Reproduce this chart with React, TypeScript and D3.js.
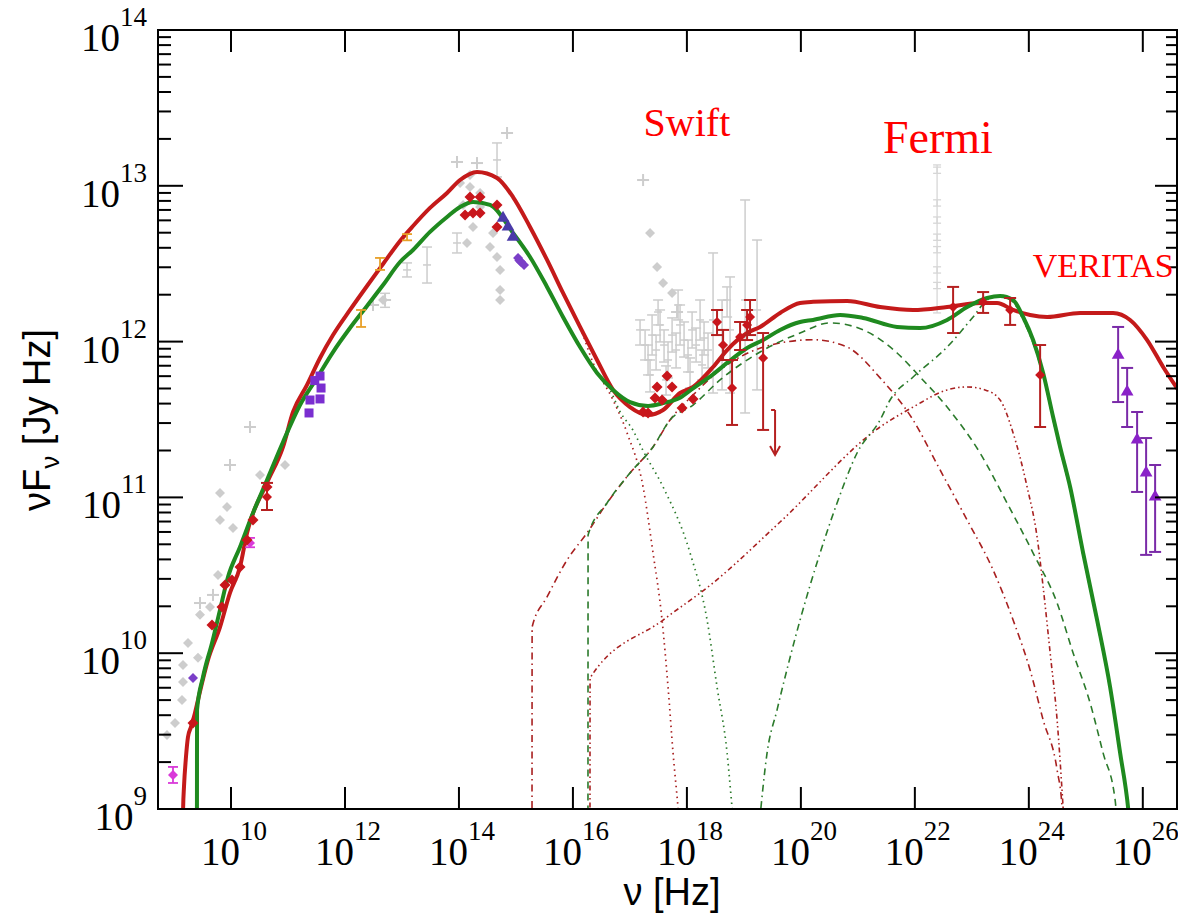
import React from 'react';
import * as d3 from 'd3';

// ---------- DATA (log10 nu [Hz], log10 nuFnu [Jy Hz]) ----------
const xTickExps = [10, 12, 14, 16, 18, 20, 22, 24, 26];
const yTickExps = [9, 10, 11, 12, 13, 14];

const redModel: [number, number][] = [
  [9.158, 8.9], [9.16, 9.007], [9.175, 9.142], [9.21, 9.334], [9.245, 9.462], [9.298, 9.527], [9.368, 9.617],
  [9.421, 9.7], [9.596, 9.957], [9.807, 10.168], [9.982, 10.387], [10.158, 10.553], [10.281, 10.772],
  [10.632, 11.093], [10.913, 11.324], [11.088, 11.548], [11.334, 11.722], [11.562, 11.895], [11.79, 12.042],
  [12.088, 12.203], [12.387, 12.357], [12.668, 12.498], [12.966, 12.646], [13.194, 12.742], [13.492, 12.858],
  [13.791, 12.954], [14.019, 13.037], [14.317, 13.089],
  [14.668, 13.05], [14.949, 12.928], [15.247, 12.736], [15.546, 12.524], [15.826, 12.312], [16.125, 12.094],
  [16.423, 11.882], [16.704, 11.69], [17.002, 11.58], [17.318, 11.529], [17.582, 11.561], [17.88, 11.67],
  [18.108, 11.709], [18.459, 11.837], [18.705, 11.946], [19.056, 12.055], [19.284, 12.094], [19.635, 12.184],
  [19.986, 12.248], [20.214, 12.255], [20.811, 12.261], [21.39, 12.222], [21.969, 12.203], [22.566, 12.222],
  [23.145, 12.248], [23.443, 12.248], [23.724, 12.203], [24.022, 12.171], [24.321, 12.158], [24.9, 12.184],
  [25.479, 12.184], [25.777, 12.139], [26.076, 12.01], [26.357, 11.837], [26.62, 11.69],
];

const greenModel: [number, number][] = [
  [9.402, 8.9], [9.404, 9.636], [9.509, 9.848], [9.667, 10.066], [9.807, 10.278], [9.947, 10.489],
  [10.158, 10.682], [10.386, 10.9], [10.632, 11.112], [10.913, 11.356], [11.211, 11.593], [11.509, 11.767],
  [11.79, 11.933], [12.088, 12.087], [12.387, 12.229], [12.668, 12.363], [12.966, 12.511], [13.194, 12.588],
  [13.492, 12.704], [13.791, 12.8], [14.019, 12.864], [14.247, 12.896], [14.545, 12.877], [14.949, 12.697],
  [15.247, 12.543], [15.546, 12.351], [15.826, 12.158],
  [16.125, 11.965], [16.423, 11.799], [16.704, 11.69], [17.002, 11.612], [17.318, 11.587], [17.582, 11.605],
  [17.88, 11.64], [18.108, 11.7], [18.459, 11.79], [18.705, 11.863], [19.056, 11.959], [19.337, 12.01],
  [19.635, 12.075], [19.986, 12.126], [20.214, 12.139], [20.688, 12.171], [21.092, 12.152], [21.688, 12.094],
  [22.092, 12.087], [22.566, 12.139], [22.917, 12.222], [23.268, 12.28], [23.496, 12.293], [23.724, 12.267],
  [23.9, 12.158], [24.075, 12.01], [24.251, 11.799], [24.426, 11.516], [24.549, 11.324], [24.725, 11.067],
  [24.953, 10.643], [25.198, 10.213], [25.426, 9.783], [25.602, 9.36], [25.742, 9.007], [25.77, 8.9],
];

// synchrotron components (dotted)
const redSync: [number, number][] = [
  [15.826, 12.312], [16.125, 12.094], [16.353, 11.863], [16.704, 11.625], [16.95, 11.414], [17.231, 11.067],
  [17.406, 10.643], [17.564, 10.213], [17.669, 9.783], [17.757, 9.36], [17.845, 9.007], [17.87, 8.9],
];
const greenSync: [number, number][] = [
  [15.826, 12.158], [16.125, 11.965], [16.423, 11.799], [16.652, 11.69], [16.827, 11.55], [17.055, 11.43],
  [17.231, 11.3], [17.582, 11.067], [18.056, 10.643], [18.354, 10.213], [18.529, 9.783], [18.705, 9.36],
  [18.793, 9.007], [18.82, 8.9],
];

// SSC components
const redSSC: [number, number][] = [
  [15.282, 8.9], [15.284, 10.168], [15.546, 10.361], [15.897, 10.598], [16.248, 10.772], [16.599, 10.964],
  [17.002, 11.157], [17.406, 11.324], [17.704, 11.497], [18.108, 11.657], [18.582, 11.818], [19.108, 11.933],
  [19.635, 11.991], [20.214, 12.012], [20.811, 11.965], [21.39, 11.767], [21.969, 11.497], [22.443, 11.176],
  [22.917, 10.855], [23.373, 10.534], [23.724, 10.213], [24.022, 9.892], [24.251, 9.572], [24.496, 9.251],
  [24.584, 9.007], [24.6, 8.9],
];
const greenSSC: [number, number][] = [
  [16.264, 8.9], [16.266, 10.759], [16.599, 10.964], [17.002, 11.157], [17.406, 11.324], [17.704, 11.497],
  [18.108, 11.593], [18.582, 11.754], [19.284, 11.933], [19.986, 12.055], [20.512, 12.12], [21.092, 12.075],
  [21.688, 11.927], [22.092, 11.773], [22.566, 11.58], [23.144, 11.285], [23.618, 10.964], [24.075, 10.643],
  [24.496, 10.322], [24.777, 10.002], [25.075, 9.681], [25.303, 9.36], [25.514, 9.058], [25.55, 8.9],
];

// external Compton components
const redEC: [number, number][] = [
  [16.299, 8.9], [16.301, 9.841], [17.582, 10.213], [18.459, 10.451], [19.635, 10.842], [21.39, 11.452],
  [21.969, 11.58], [22.566, 11.69], [22.917, 11.709], [23.232, 11.69], [23.496, 11.625], [23.724, 11.414],
  [23.97, 11.067], [24.145, 10.746], [24.251, 10.425], [24.374, 10.002], [24.496, 9.572], [24.602, 9.007],
  [24.62, 8.9],
];
const greenEC: [number, number][] = [
  [19.27, 8.9], [19.407, 9.36], [19.582, 9.636], [19.986, 10.213], [20.337, 10.643], [20.635, 10.964],
  [20.986, 11.285], [21.39, 11.497], [21.565, 11.625], [21.969, 11.773], [22.566, 11.965], [23.022, 12.158],
  [23.268, 12.267], [23.496, 12.293], [23.724, 12.254], [23.9, 12.139], [24.075, 11.991], [24.251, 11.78],
  [24.426, 11.497], [24.549, 11.305], [24.725, 11.048], [24.953, 10.624], [25.198, 10.194], [25.426, 9.764],
  [25.602, 9.34], [25.742, 8.99], [25.76, 8.9],
];

// archival (grey) data
const greyDiamonds: [number, number][] = [
  [8.877, 9.475], [9.017, 9.552], [9.14, 9.7], [9.158, 9.815], [9.158, 9.925], [9.245, 10.066], [9.421, 9.97],
  [9.456, 10.246], [9.631, 10.297], [9.772, 10.502], [9.807, 11.028], [9.93, 10.939], [9.807, 10.855],
  [10.035, 10.804], [10.509, 11.144], [10.948, 11.208], [14.194, 13.069], [14.37, 12.954], [14.019, 13.018],
  [14.194, 12.992], [14.37, 12.864], [14.598, 12.697], [14.072, 12.877], [14.141, 12.633], [14.247, 12.736],
  [14.545, 12.607], [14.668, 12.543], [14.721, 12.46], [14.721, 12.331], [14.721, 12.267], [12.668, 12.267],
  [17.353, 12.697], [17.476, 12.479], [17.582, 12.376], [17.74, 12.312],
];
const greyCrosses: [number, number][] = [
  [9.456, 10.322], [9.684, 10.374], [9.982, 11.208], [10.333, 11.452], [12.492, 12.235], [12.703, 12.267],
  [14.317, 13.146], [14.844, 13.339], [17.231, 13.037], [17.827, 12.19], [13.966, 13.153],
];
// [logNu, logF, logLo, logHi]
const greyErrors: [number, number, number, number][] = [
  [13.966, 12.633, 12.569, 12.697], [14.668, 13.166, 13.057, 13.275], [13.44, 12.492, 12.376, 12.607],
  [13.089, 12.46, 12.415, 12.505], [12.703, 12.267, 12.22, 12.31],
  [17.178, 12.075, 11.978, 12.139], [17.266, 11.978, 11.882, 12.075], [17.318, 11.882, 11.786, 11.978],
  [17.389, 12.042, 11.914, 12.171], [17.459, 11.946, 11.818, 12.042], [17.529, 12.107, 11.998, 12.203],
  [17.599, 11.978, 11.869, 12.075], [17.669, 11.882, 11.767, 11.998], [17.74, 12.042, 11.933, 12.152],
  [17.81, 11.946, 11.831, 12.055], [17.88, 12.107, 11.978, 12.235], [17.95, 12.01, 11.901, 12.126],
  [18.02, 11.914, 11.805, 12.01], [18.091, 12.075, 11.959, 12.19], [18.161, 11.978, 11.869, 12.087],
  [18.231, 12.139, 12.01, 12.267], [18.301, 12.023, 11.914, 12.126], [18.371, 11.946, 11.831, 12.055],
  [17.353, 11.786, 11.677, 11.882], [17.634, 11.754, 11.657, 11.844], [18.055, 11.805, 11.702, 11.895],
  [18.266, 11.85, 11.754, 11.946], [17.494, 12.19, 12.107, 12.267], [17.845, 12.235, 12.139, 12.331],
  [18.459, 12.139, 11.67, 12.569], [18.757, 12.075, 11.67, 12.415], [19.021, 12.267, 11.542, 12.909],
  [19.231, 12.203, 11.69, 12.652], [18.705, 12.267, 12.158, 12.351], [18.617, 11.978, 11.69, 12.267],
];
const fermiArchive: [number, number, number, number][] = [
  [22.39, 13.101, 13.08, 13.12], [22.39, 12.89, 12.87, 12.91], [22.39, 12.781, 12.76, 12.8],
  [22.39, 12.671, 12.65, 12.69], [22.39, 12.588, 12.57, 12.61], [22.39, 12.46, 12.44, 12.48],
  [22.39, 12.363, 12.34, 12.38], [22.39, 12.6, 12.184, 13.134],
];

// contemporaneous (red) data
const redPoints: [number, number][] = [
  [9.333, 9.552], [9.667, 10.181], [9.842, 10.297], [9.895, 10.438], [10.018, 10.47], [10.158, 10.553],
  [10.281, 10.727], [10.386, 10.855], [10.632, 11.067],
  [14.194, 12.928], [14.37, 12.928], [14.107, 12.813], [14.247, 12.826], [14.37, 12.826], [14.668, 12.877],
  [14.668, 12.736],
  [17.652, 11.779], [17.476, 11.709], [17.74, 11.709], [17.441, 11.638], [17.564, 11.625], [17.318, 11.542],
  [17.231, 11.548], [17.915, 11.574], [18.108, 11.632],
];
const redErrPoints: [number, number, number, number][] = [
  [10.632, 11.003, 10.919, 11.093],
  [18.529, 12.126, 12.042, 12.203], [18.792, 11.702, 11.465, 11.882], [18.933, 12.03, 11.946, 12.126],
  [19.056, 12.107, 12.01, 12.203], [19.108, 12.158, 12.042, 12.267], [19.337, 11.895, 11.433, 12.055],
  [18.635, 11.978, 11.882, 12.075],
  [22.671, 12.222, 12.055, 12.351], [23.198, 12.254, 12.184, 12.318], [23.672, 12.203, 12.107, 12.28],
  [24.198, 11.786, 11.452, 11.978],
];
const upperLimit: [number, number, number] = [19.547, 11.561, 11.272];

const veritas: [number, number, number, number][] = [
  [25.567, 11.914, 11.612, 12.094], [25.725, 11.677, 11.452, 11.831], [25.9, 11.369, 11.035, 11.548],
  [26.058, 11.157, 10.631, 11.381], [26.216, 11.003, 10.65, 11.208],
];
const planck: [number, number][] = [
  [11.562, 11.779], [11.58, 11.702], [11.562, 11.632], [11.386, 11.625], [11.369, 11.542], [11.47, 11.75],
];
const uvTriangles: [number, number][] = [[14.774, 12.793], [14.861, 12.736], [14.949, 12.671]];
const uvPurple: [number, number][] = [[15.037, 12.537], [15.09, 12.511], [15.142, 12.492], [15.06, 12.52]];
const magenta: [number, number, number, number][] = [[8.982, 9.219, 9.167, 9.27], [10.333, 10.708, 10.68, 10.74]];
const purpleRadio: [number, number][] = [[9.333, 9.841]];
const orangeErr: [number, number, number, number][] = [
  [12.615, 12.498, 12.46, 12.537], [12.282, 12.152, 12.094, 12.203], [13.089, 12.671, 12.65, 12.69],
];

const labels = [
  { text: 'Swift', nu: 17.24, f: 13.32, size: 40 },
  { text: 'Fermi', nu: 21.44, f: 13.21, size: 46 },
  { text: 'VERITAS', nu: 24.07, f: 12.415, size: 34 },
];

// ---------- LAYOUT ----------
const W = 1178, H = 916;
const L = 158, R = 1177, T = 30, B = 809;

export default function App() {
  const xs = d3.scaleLog().domain([Math.pow(10, 8.719), Math.pow(10, 26.6)]).range([L, R]);
  const ys = d3.scaleLog().domain([1e9, 1e14]).range([B, T]);
  const px = (l: number) => xs(Math.pow(10, l));
  const py = (l: number) => ys(Math.pow(10, l));

  const line = d3.line<[number, number]>()
    .x(d => px(d[0]))
    .y(d => py(d[1]))
    .curve(d3.curveMonotoneX);

  const serif = '"Liberation Serif", "Times New Roman", serif';
  const sans = '"Liberation Sans", Arial, sans-serif';

  const redC = '#c41a1a';
  const greenC = '#1f8a1f';
  const redThin = '#a82020';
  const greenThin = '#2b7a2b';
  const grey = '#cdcdcd';

  const diamond = (cx: number, cy: number, r: number) =>
    `M${cx},${cy - r}L${cx + r},${cy}L${cx},${cy + r}L${cx - r},${cy}Z`;
  const tri = d3.symbol().type(d3.symbolTriangle).size(70)();

  const yMinor: number[] = [];
  for (let e = 9; e < 14; e++) for (let m = 2; m <= 9; m++) yMinor.push(m * Math.pow(10, e));

  const errBar = (d: [number, number, number, number], key: string, color: string, w: number, cap: number) => (
    <g key={key} stroke={color} strokeWidth={w}>
      <line x1={px(d[0])} x2={px(d[0])} y1={py(d[2])} y2={py(d[3])} />
      <line x1={px(d[0]) - cap} x2={px(d[0]) + cap} y1={py(d[2])} y2={py(d[2])} />
      <line x1={px(d[0]) - cap} x2={px(d[0]) + cap} y1={py(d[3])} y2={py(d[3])} />
    </g>
  );

  return (
    <svg width={W} height={H} style={{ position: 'absolute', left: 0, top: 0, background: '#fff' }}>
      <defs>
        <clipPath id="plot">
          <rect x={L} y={T} width={R - L} height={B - T} />
        </clipPath>
      </defs>
      <rect x={0} y={0} width={W} height={H} fill="#fff" />

      <g clipPath="url(#plot)">
        {/* grey archival */}
        {greyErrors.map((d, i) => (
          <g key={'ge' + i}>
            {errBar(d, 'geb' + i, grey, 1.5, 5)}
            <line x1={px(d[0]) - 4} x2={px(d[0]) + 4} y1={py(d[1])} y2={py(d[1])} stroke={grey} strokeWidth={1.5} />
          </g>
        ))}
        {fermiArchive.map((d, i) => (
          <g key={'fa' + i}>
            {errBar(d, 'fab' + i, '#d6d6d6', 1.3, 4)}
          </g>
        ))}
        {greyDiamonds.map((d, i) => (
          <path key={'gd' + i} d={diamond(px(d[0]), py(d[1]), 5)} fill={grey} />
        ))}
        {greyCrosses.map((d, i) => (
          <g key={'gc' + i} stroke={grey} strokeWidth={2}>
            <line x1={px(d[0]) - 6} x2={px(d[0]) + 6} y1={py(d[1])} y2={py(d[1])} />
            <line x1={px(d[0])} x2={px(d[0])} y1={py(d[1]) - 6} y2={py(d[1]) + 6} />
          </g>
        ))}

        {/* model components */}
        <path d={line(redSync) || ''} fill="none" stroke={redThin} strokeWidth={1.7} strokeDasharray="1.5,4" />
        <path d={line(greenSync) || ''} fill="none" stroke={greenThin} strokeWidth={1.7} strokeDasharray="1.5,4" />
        <path d={line(redSSC) || ''} fill="none" stroke={redThin} strokeWidth={1.6} strokeDasharray="7,4,1.5,4" />
        <path d={line(greenSSC) || ''} fill="none" stroke={greenThin} strokeWidth={1.6} strokeDasharray="7,5" />
        <path d={line(redEC) || ''} fill="none" stroke={redThin} strokeWidth={1.6} strokeDasharray="5,3,1.5,3,1.5,3" />
        <path d={line(greenEC) || ''} fill="none" stroke={greenThin} strokeWidth={1.6} strokeDasharray="7,4,1.5,4" />

        {/* total models */}
        <path d={line(redModel) || ''} fill="none" stroke={redC} strokeWidth={4} />
        <path d={line(greenModel) || ''} fill="none" stroke={greenC} strokeWidth={4} />

        {/* coloured data */}
        {orangeErr.map((d, i) => errBar(d, 'or' + i, '#e8a028', 1.8, 5))}
        {planck.map((d, i) => (
          <rect key={'pl' + i} x={px(d[0]) - 4.5} y={py(d[1]) - 4.5} width={9} height={9} fill="#7a2ed0" />
        ))}
        {uvTriangles.map((d, i) => (
          <path key={'uv' + i} d={tri || ''} transform={`translate(${px(d[0])},${py(d[1])})`} fill="#4a3aa8" />
        ))}
        {uvPurple.map((d, i) => (
          <path key={'up' + i} d={diamond(px(d[0]), py(d[1]), 5)} fill="#7b3fc8" />
        ))}
        {purpleRadio.map((d, i) => (
          <path key={'pr' + i} d={diamond(px(d[0]), py(d[1]), 5)} fill="#7b3fc8" />
        ))}
        {magenta.map((d, i) => (
          <g key={'mg' + i}>
            {errBar(d, 'mgb' + i, '#d93ad9', 1.8, 5)}
            <path d={diamond(px(d[0]), py(d[1]), 5)} fill="#d93ad9" />
          </g>
        ))}
        {redErrPoints.map((d, i) => (
          <g key={'re' + i}>
            {errBar(d, 'reb' + i, '#b52020', 2, 6)}
            <path d={diamond(px(d[0]), py(d[1]), 5)} fill="#c8161c" />
          </g>
        ))}
        {redPoints.map((d, i) => (
          <path key={'rp' + i} d={diamond(px(d[0]), py(d[1]), 5.5)} fill="#c8161c" />
        ))}
        <g stroke="#b52020" strokeWidth={2} fill="none">
          <line x1={px(upperLimit[0])} x2={px(upperLimit[0])} y1={py(upperLimit[1])} y2={py(upperLimit[2])} />
          <line x1={px(upperLimit[0]) - 4} x2={px(upperLimit[0])} y1={py(upperLimit[1])} y2={py(upperLimit[1])} />
          <path d={`M${px(upperLimit[0]) - 5},${py(upperLimit[2]) - 9}L${px(upperLimit[0])},${py(upperLimit[2])}L${px(upperLimit[0]) + 5},${py(upperLimit[2]) - 9}`} />
        </g>
        {veritas.map((d, i) => (
          <g key={'ve' + i}>
            {errBar(d, 'veb' + i, '#7a2aa8', 2, 6)}
            <path d={tri || ''} transform={`translate(${px(d[0])},${py(d[1])})`} fill="#8a22c8" />
          </g>
        ))}
      </g>

      {/* axes frame */}
      <g stroke="#000" strokeWidth={2} fill="none">
        <line x1={L} x2={L} y1={T - 1} y2={B + 1} />
        <line x1={L - 1} x2={R + 1} y1={B} y2={B} />
        <line x1={L - 1} x2={R + 1} y1={T} y2={T} />
        <line x1={R} x2={R} y1={T - 1} y2={B + 1} />
        {xTickExps.map(e => (
          <g key={'xt' + e}>
            <line x1={px(e)} x2={px(e)} y1={B} y2={B - 22} />
            <line x1={px(e)} x2={px(e)} y1={T} y2={T + 22} />
          </g>
        ))}
        {yTickExps.map(e => (
          <g key={'yt' + e}>
            <line x1={L} x2={L + 25} y1={py(e)} y2={py(e)} />
            <line x1={R} x2={R - 22} y1={py(e)} y2={py(e)} />
          </g>
        ))}
        {yMinor.map((v, i) => (
          <g key={'ym' + i}>
            <line x1={L} x2={L + 13} y1={ys(v)} y2={ys(v)} />
            <line x1={R} x2={R - 11} y1={ys(v)} y2={ys(v)} />
          </g>
        ))}
      </g>

      {/* tick labels */}
      {xTickExps.map(e => (
        <text key={'xl' + e} x={px(e) + 3} y={865} textAnchor="middle" fontFamily={serif} fontSize={39} fill="#000">
          10<tspan dy={-25} fontSize={27}>{e}</tspan>
        </text>
      ))}
      {yTickExps.map(e => (
        <text key={'yl' + e} x={147} y={py(e) + 21} textAnchor="end" fontFamily={serif} fontSize={39} fill="#000">
          10<tspan dy={-25} fontSize={27}>{e}</tspan>
        </text>
      ))}

      {/* axis titles */}
      <text x={672} y={905} textAnchor="middle" fontFamily={sans} fontSize={38} fill="#000">ν [Hz]</text>
      <text transform="translate(50,420) rotate(-90)" textAnchor="middle" fontFamily={sans} fontSize={38} fill="#000">
        νF<tspan dy={9} fontSize={26}>ν</tspan><tspan dy={-9}> [Jy Hz]</tspan>
      </text>

      {/* instrument labels */}
      {labels.map(l => (
        <text key={l.text} x={px(l.nu)} y={py(l.f)} fontFamily={serif} fontSize={l.size} fill="#ff0000">{l.text}</text>
      ))}
    </svg>
  );
}
